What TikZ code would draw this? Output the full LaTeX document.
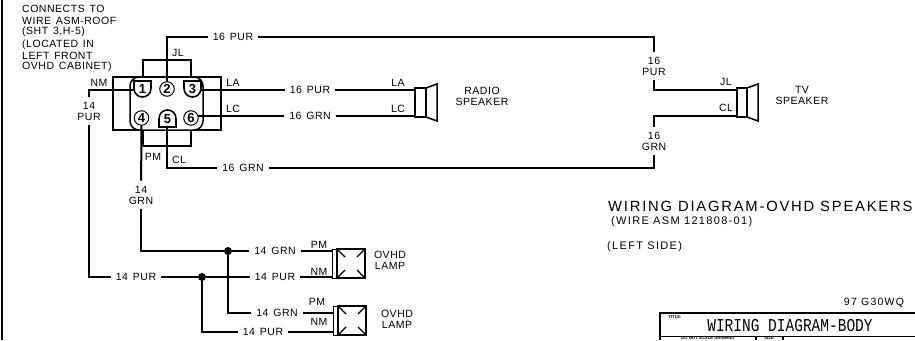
\documentclass[tikz,border=0pt]{standalone}
\usepackage{fontspec}
\usepackage{tikz}
\usetikzlibrary{positioning}
\setmainfont{Liberation Sans}
\newfontfamily\cadfont[LetterSpace=5,WordSpace=1.4]{Liberation Sans}
\newfontfamily\bigfont[LetterSpace=12]{Liberation Sans}
\newfontfamily\tblfont{Liberation Mono}
\tikzset{
  wire/.style={line width=2pt},
  body/.style={line width=1.5pt},
  lbl/.style={inner sep=1pt, font=\cadfont\fontsize{10.5}{11}\selectfont, align=center},
  gauge/.style={lbl, inner sep=5pt},
  note/.style={lbl, align=left, anchor=west},
  side/.style={lbl, anchor=west, font=\bigfont\fontsize{11}{12}\selectfont},
  pin/.style={circle, draw, fill=white, line width=1pt, minimum size=14.5pt, inner sep=0pt, font=\bfseries\fontsize{13}{13}\selectfont},
  keyed/.style={inner sep=0pt, minimum size=14.5pt, font=\bfseries\fontsize{13}{13}\selectfont},
  keyline/.style={line width=1.6pt, fill=white},
  dot/.style={circle, fill, inner sep=0pt, minimum size=8pt},
  tiny/.style={inner sep=0pt, font=\bfseries\fontsize{4.2}{5}\selectfont}
}
\begin{document}
\begin{tikzpicture}[x=1pt, y=-1pt]
\useasboundingbox (0,0) rectangle (915,340);

% Frame at left
\coordinate (frametop) at (2,0);
\coordinate (framebot) at (2,340);
\draw[line width=2pt] (frametop) -- (framebot);

% Note at top left
\node[note] (noteA) at (21,9) {CONNECTS TO};
\node[note] (noteB) at (21,21) {WIRE ASM-ROOF};
\node[note] (noteC) at (21,32) {(SHT 3,H-5)};
\node[note] (noteD) at (21,45) {(LOCATED IN};
\node[note] (noteE) at (21,56) {LEFT FRONT};
\node[note] (noteF) at (21,67) {OVHD CABINET)};

% Connector body
\coordinate (bodyA) at (113,77);
\coordinate (bodyB) at (221,130);
\draw[body] (bodyA) rectangle (bodyB);
\draw[body, fill=white, rounded corners=9pt] (130,77) rectangle (203,130);
\draw[body] (143,77) -- (143,60) -- (191,60) -- (191,77);
\draw[body] (143,130) -- (143,146) -- (191,146) -- (191,130);

% Keyed pins
\draw[keyline] (134,81) -- (151,81) -- (151,88) .. controls (151,100) and (134,100) .. (134,88) -- cycle;
\draw[keyline] (184,81) -- (201,81) -- (201,88) .. controls (201,100) and (184,100) .. (184,88) -- cycle;
\draw[keyline] (159,127) -- (176,127) -- (176,119) .. controls (176,107) and (159,107) .. (159,119) -- cycle;

% Wire labels
\node[gauge] (purA) at (233,37) {16 PUR};
\node[gauge] (purB) at (310,90) {16 PUR};
\node[gauge] (grnB) at (310,116) {16 GRN};
\node[gauge] (grnA) at (243,168) {16 GRN};
\node[gauge] (purC) at (654,66) {16\\PUR};
\node[gauge] (grnC) at (654,141) {16\\GRN};
\node[gauge] (purD) at (89,111) {14\\PUR};
\node[gauge] (grnD) at (141,195) {14\\GRN};
\node[gauge] (purE) at (136,277) {14 PUR};
\node[gauge] (grnE) at (275,251) {14 GRN};
\node[gauge] (purF) at (275,277) {14 PUR};
\node[gauge] (grnF) at (277,313) {14 GRN};
\node[gauge] (purG) at (263,332) {14 PUR};

% Junctions
\node[dot] (dotA) at (228,251) {};
\node[dot] (dotB) at (202,277) {};

% Wire ends
\coordinate (radA) at (415,90);
\coordinate (radB) at (415,116);
\coordinate (tvA) at (737,90);
\coordinate (tvB) at (737,116);
\coordinate (lampA) at (333,251);
\coordinate (lampB) at (333,277);
\coordinate (lampC) at (333,313);
\coordinate (lampD) at (333,332);
\coordinate (pinAout) at (134,90);
\coordinate (pinBout) at (167,82);
\coordinate (pinCout) at (201,90);
\coordinate (pinDout) at (141.5,126);
\coordinate (pinEout) at (167,127);
\coordinate (pinFout) at (198,116);

% Wires
\draw[wire] (pinBout) -- (167,37) -- (purA);
\draw[wire] (purA) -- (654,37) -- (purC);
\draw[wire] (purC) -- (654,90) -- (tvA);
\draw[wire] (pinCout) -- (purB);
\draw[wire] (purB) -- (radA);
\draw[wire] (pinFout) -- (grnB);
\draw[wire] (grnB) -- (radB);
\draw[wire] (pinEout) -- (167,168) -- (grnA);
\draw[wire] (grnA) -- (654,168) -- (grnC);
\draw[wire] (grnC) -- (654,116) -- (tvB);
\draw[wire] (pinAout) -- (89,90) -- (purD);
\draw[wire] (purD) -- (89,277) -- (purE);
\draw[wire] (purE) -- (dotB) -- (purF);
\draw[wire] (purF) -- (lampB);
\draw[wire] (pinDout) -- (grnD);
\draw[wire] (grnD) -- (141,251) -- (dotA) -- (grnE);
\draw[wire] (grnE) -- (lampA);
\draw[wire] (dotA) -- (228,313) -- (grnF);
\draw[wire] (grnF) -- (lampC);
\draw[wire] (dotB) -- (202,332) -- (purG);
\draw[wire] (purG) -- (lampD);

% Pin numbers
\node[keyed] (pinA) at (142.5,89) {1};
\node[pin] (pinB) at (167,89) {2};
\node[keyed] (pinC) at (192.5,89) {3};
\node[pin] (pinD) at (141.5,118) {4};
\node[keyed, fill=white, minimum size=9pt] (pinE) at (167.5,119) {5};
\node[pin] (pinF) at (191,118) {6};

% Radio speaker
\draw[body] (415,88) rectangle (426,117);
\draw[body] (426,88) -- (437,84) -- (437,121) -- (426,117);
% TV speaker
\draw[body] (737,88) rectangle (747,117);
\draw[body] (747,88) -- (758,84) -- (758,121) -- (747,117);

% Lamps
\draw[line width=0.7pt] (332,249) rectangle (337,278);
\draw[line width=2pt] (337,249) rectangle (365,278);
\draw[line width=1.4pt] (337,249) -- (345,257) (365,249) -- (357,257) (337,278) -- (345,270) (365,278) -- (357,270);
\draw[line width=0.7pt] (333,306) rectangle (338,335);
\draw[line width=2pt] (338,306) rectangle (366,335);
\draw[line width=1.4pt] (338,306) -- (346,314) (366,306) -- (358,314) (338,335) -- (346,327) (366,335) -- (358,327);

% Pin names
\node[lbl] (nmA) at (99,83) {NM};
\node[lbl] (jlA) at (178,53) {JL};
\node[lbl] (laA) at (233,83) {LA};
\node[lbl] (lcA) at (233,109) {LC};
\node[lbl] (pmA) at (153,157) {PM};
\node[lbl] (clA) at (179,160) {CL};
\node[lbl] (laB) at (398,83) {LA};
\node[lbl] (lcB) at (398,109) {LC};
\node[lbl] (jlB) at (726,82) {JL};
\node[lbl] (clB) at (726,108) {CL};
\node[lbl] (pmB) at (319,245) {PM};
\node[lbl] (nmB) at (319,272) {NM};
\node[lbl] (pmC) at (317,302) {PM};
\node[lbl] (nmC) at (319,322) {NM};

% Device names
\node[lbl] (radio) at (482,96.5) {RADIO\\SPEAKER};
\node[lbl] (tv) at (802,95) {TV\\SPEAKER};
\node[lbl] (ovhdA) at (390,260) {OVHD\\LAMP};
\node[lbl] (ovhdB) at (397,319) {OVHD\\LAMP};

% Titles
\node[lbl, anchor=west, font=\bigfont\fontsize{14.8}{16}\selectfont] (title) at (607,206) {WIRING DIAGRAM-OVHD SPEAKERS};
\node[side] (asm) at (610,222) {(WIRE ASM 121808-01)};
\node[side] (leftside) at (606,247) {(LEFT SIDE)};
\node[lbl, font=\bigfont\fontsize{10.5}{11}\selectfont] (code) at (874,303) {97 G30WQ};

% Title block
\draw[line width=1.8pt] (660,340) -- (660,313) -- (915,313);
\draw[line width=1pt] (660,336) -- (915,336);
\draw[line width=1.3pt] (756,336) -- (756,340) (783,336) -- (783,340);
\node[tiny] (tblA) at (675,317) {TITLE:};
\node[inner sep=0pt, font=\tblfont\fontsize{14.5}{15}\selectfont] (tblB) at (790,326) {\scalebox{1}[1.25]{WIRING DIAGRAM-BODY}};
\node[tiny] (tblC) at (708,338.4) {DO NOT SCALE DRAWING};
\node[tiny] (tblD) at (769,338.4) {SIZE};
\end{tikzpicture}
\end{document}
